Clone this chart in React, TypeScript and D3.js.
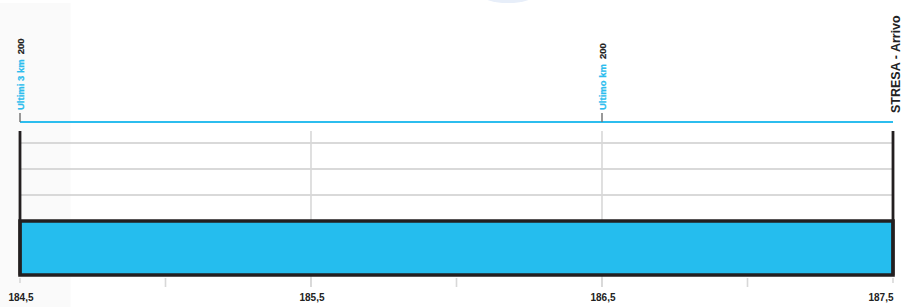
import React from "react";
import * as d3 from "d3";

// profile (km, altitude m)
const profileKm = [184.5, 187.5];
const profileAlt = [200, 200];

// points of interest along the route
const markerKm = [184.5, 186.5];
const markerLabel = ["Ultimi 3 km", "Ultimo km"];
const markerAlt = [200, 200];
const finishKm = 187.5;
const finishLabel = "STRESA - Arrivo";

const labelTicks = [184.5, 185.5, 186.5, 187.5];
const minorTicks = [185, 186, 187];
const gridAlt = [250, 300, 350];

const W = 915;
const H = 307;
const BLUE = "#25bdee";
const LINE_BLUE = "#2cbdee";
const INK = "#231f20";

const App = () => {
  const x = d3.scaleLinear().domain([184.5, 187.5]).range([20, 893]);
  const y = d3.scaleLinear().domain([96, 373]).range([275, 131]);
  const fmt = (v: number) => d3.format(".1f")(v).replace(".", ",");

  const pts = profileKm.map((k, i) => [k, profileAlt[i]] as [number, number]);
  const area = d3
    .area<[number, number]>()
    .x((d) => x(d[0]))
    .y0(y(96))
    .y1((d) => y(d[1]));

  const [x0, x1] = x.range();
  const yTop = y(373);
  const yBot = y(96);

  return (
    <svg
      width={W}
      height={H}
      style={{ position: "absolute", left: 0, top: 0, fontFamily: "'Liberation Sans', Arial, sans-serif" }}
    >
      <rect x={0} y={3} width={70.5} height={H - 3} fill="#fafafa" />
      <ellipse cx={508} cy={-8} rx={30} ry={11} fill="#e7eef9" />

      {/* grid */}
      {gridAlt.map((a) => (
        <line key={a} x1={x0} x2={x1} y1={y(a)} y2={y(a)} stroke="#cccccc" strokeWidth={1.4} />
      ))}
      {[185.5, 186.5].map((k) => (
        <line key={k} x1={x(k)} x2={x(k)} y1={yTop} y2={287} stroke="#d8d8d8" strokeWidth={1.6} />
      ))}

      {/* profile */}
      <path d={area(pts) || ""} fill={BLUE} stroke={INK} strokeWidth={3.6} />
      <line x1={x0} x2={x0} y1={yTop} y2={yBot} stroke={INK} strokeWidth={2.8} />
      <line x1={x1} x2={x1} y1={yTop} y2={yBot} stroke={INK} strokeWidth={2.8} />

      {/* bottom axis */}
      {labelTicks.map((k, i) => (
        <g key={k}>
          <line
            x1={x(k)}
            x2={x(k)}
            y1={278}
            y2={i === 0 || i === labelTicks.length - 1 ? 283 : 287}
            stroke="#d8d8d8"
            strokeWidth={1.6}
          />
          <text
            x={i === labelTicks.length - 1 ? x(k) + 0.5 : x(k) + 1}
            y={301}
            fontSize={10}
            fontWeight="bold"
            fill="#222"
            textAnchor={i === labelTicks.length - 1 ? "end" : "middle"}
          >
            {fmt(k)}
          </text>
        </g>
      ))}
      {minorTicks.map((k) => (
        <line key={k} x1={x(k)} x2={x(k)} y1={278} y2={287} stroke="#d8d8d8" strokeWidth={1.6} />
      ))}

      {/* top line of markers */}
      <line x1={x0} x2={x1} y1={122} y2={122} stroke={LINE_BLUE} strokeWidth={2} />
      {markerKm.map((k, i) => (
        <g key={k}>
          <line x1={x(k)} x2={x(k)} y1={113} y2={122} stroke="#777" strokeWidth={1.5} />
          <text
            transform={`translate(${x(k) + 4},110) rotate(-90)`}
            fontSize={9.5}
            fontWeight="bold"
          >
            <tspan fill={LINE_BLUE} stroke={LINE_BLUE} strokeWidth={0.25}>
              {markerLabel[i]}
            </tspan>
            <tspan fill="#222" stroke="#222" strokeWidth={0.2} dx={5}>
              {markerAlt[i]}
            </tspan>
          </text>
        </g>
      ))}
      <text
        transform={`translate(${x(finishKm) + 7},113) rotate(-90)`}
        fontSize={12.5}
        fontWeight="bold"
        fill="#222"
      >
        {finishLabel}
      </text>
    </svg>
  );
};

export default App;
